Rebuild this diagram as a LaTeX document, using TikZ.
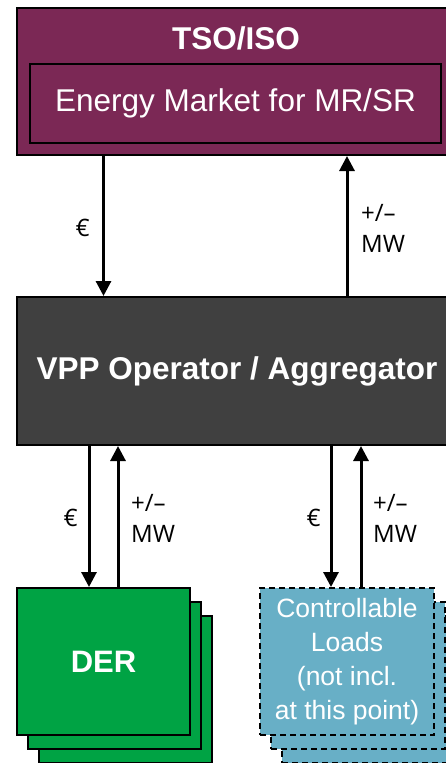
\documentclass[tikz,border=0pt]{standalone}
\usepackage{fontspec}
\setmainfont{Liberation Sans}
\newfontfamily\lblfont{Open Sans}
\usetikzlibrary{arrows.meta}
\definecolor{tsopurple}{RGB}{123,40,85}
\definecolor{vppgrey}{RGB}{64,64,64}
\definecolor{dergreen}{RGB}{0,163,68}
\definecolor{loadblue}{RGB}{104,175,198}
\tikzset{
  box/.style={draw=black, line width=2pt, inner sep=0pt, text=white, align=center},
  derbox/.style={box, fill=dergreen, minimum width=173pt, minimum height=147pt},
  loadbox/.style={box, fill=loadblue, dash pattern=on 6pt off 4pt, minimum width=174pt, minimum height=147pt},
  flow/.style={line width=3pt, -{Triangle[length=15pt,width=15pt]}},
  lbl/.style={font=\lblfont\fontsize{24}{31}\selectfont, inner sep=0pt}
}
\begin{document}
\begin{tikzpicture}[x=1pt,y=-1pt]
\useasboundingbox (0,0) rectangle (446,763);
% market side
\node[box, fill=tsopurple, minimum width=438pt, minimum height=147pt] (tso) at (236,81.5) {};
\node[font=\bfseries\fontsize{31.5}{36}\selectfont, text=white] (tsoTitle) at (236,38) {TSO/ISO};
\node[box, fill=tsopurple, minimum width=411pt, minimum height=79pt, font=\fontsize{31.5}{36}\selectfont] (market) at (235.5,103.5) {Energy Market for MR/SR};
\node[box, fill=vppgrey, minimum width=440pt, minimum height=148pt, font=\bfseries\fontsize{31.5}{36}\selectfont] (vpp) at (237,371) {VPP Operator / Aggregator};
% stacked units
\foreach \i in {2,1}
  \node[derbox] (der\i) at (103.5+11*\i, 661.5+14*\i) {};
\node[derbox, font=\bfseries\fontsize{31}{36}\selectfont] (der) at (103.5,661.5) {DER};
\foreach \i in {2,1}
  \node[loadbox] (load\i) at (347+11*\i, 661.5+14*\i) {};
\node[loadbox, font=\fontsize{26.5}{34}\selectfont] (load) at (347,661.5) {Controllable\\Loads\\(not incl.\\at this point)};
% flows
\draw[flow] (tso.south -| der.north) -- (vpp.north -| der.north);
\draw[flow] (vpp.north -| load.north) -- (tso.south -| load.north);
\draw[flow] ([xshift=-14.5pt]der.north |- vpp.south) -- ([xshift=-14.5pt]der.north);
\draw[flow] ([xshift=14.5pt]der.north) -- ([xshift=14.5pt]der.north |- vpp.south);
\draw[flow] ([xshift=-16pt]load.north |- vpp.south) -- ([xshift=-16pt]load.north);
\draw[flow] ([xshift=14pt]load.north) -- ([xshift=14pt]load.north |- vpp.south);
% labels
\node[lbl, anchor=east] (euroTop) at (90,228) {€};
\node[lbl, anchor=west, align=left] (mwTop) at (361,228) {+/–\\MW};
\node[lbl, anchor=east] (euroDer) at (78,518) {€};
\node[lbl, anchor=west, align=left] (mwDer) at (131,518) {+/–\\MW};
\node[lbl, anchor=east] (euroLoad) at (321,518) {€};
\node[lbl, anchor=west, align=left] (mwLoad) at (373,518) {+/–\\MW};
\end{tikzpicture}
\end{document}
